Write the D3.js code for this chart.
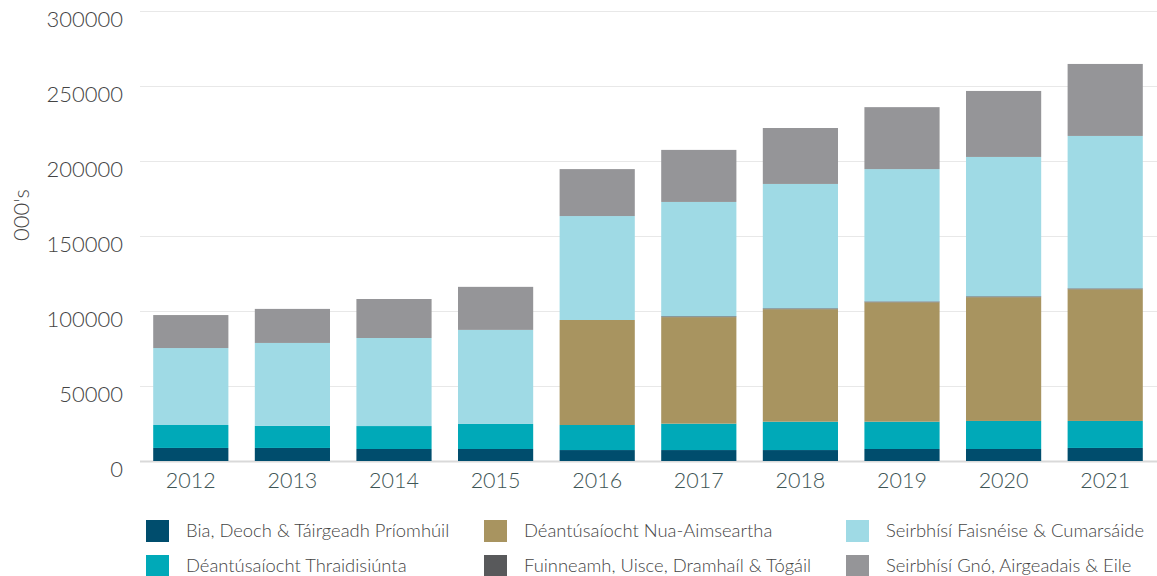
<!DOCTYPE html>
<html>
<head>
<meta charset="utf-8">
<script src="https://cdn.jsdelivr.net/npm/d3@7"></script>
<style>
  body { margin: 0; background: #fff; }
  text { font-family: Lato, "Open Sans", sans-serif; font-weight: 300; }
</style>
</head>
<body>
<div id="chart"></div>
<script>
// Datos
const years = ["2012", "2013", "2014", "2015", "2016", "2017", "2018", "2019", "2020", "2021"];
const seriesNames = [
  "Bia, Deoch & Táirgeadh Príomhúil",
  "Déantúsaíocht Thraidisiúnta",
  "Déantúsaíocht Nua-Aimseartha",
  "Fuinneamh, Uisce, Dramhaíl & Tógáil",
  "Seirbhísí Faisnéise & Cumarsáide",
  "Seirbhísí Gnó, Airgeadais & Eile"
];
const bia       = [8700, 8700, 8000, 8000, 7300, 7300, 7300, 8000, 8000, 8700];
const thraid    = [15300, 14700, 15300, 16700, 16700, 17600, 18900, 18200, 18700, 18000];
const nua       = [0, 0, 0, 0, 70000, 71000, 75000, 79600, 82500, 87800];
const fuinneamh = [0, 0, 0, 0, 0, 600, 600, 600, 600, 600];
const faisneis  = [51300, 55300, 58700, 62700, 69300, 76200, 82900, 88200, 92900, 101600];
const gno       = [22000, 22700, 26000, 28700, 31300, 34700, 37300, 41300, 44000, 48000];
const yTicks = [0, 50000, 100000, 150000, 200000, 250000, 300000];
const colors = ["#004d6d", "#00a9b8", "#a89460", "#58595b", "#9fdae5", "#959598"];

const width = 1157, height = 576;
const svg = d3.select("#chart").append("svg")
  .attr("width", width).attr("height", height);

const seriesValues = [bia, thraid, nua, fuinneamh, faisneis, gno];
const table = years.map((y, i) => {
  const row = { year: y };
  seriesNames.forEach((s, k) => row[s] = seriesValues[k][i]);
  return row;
});
const stacked = d3.stack().keys(seriesNames)(table);

const x = d3.scaleBand().domain(years).range([140, 1156]).paddingInner(0.26).paddingOuter(0.13);
const y = d3.scaleLinear().domain([0, 300000]).range([461, 11]);

// Líneas de cuadrícula
svg.append("g").selectAll("line")
  .data(yTicks)
  .enter().append("line")
  .attr("x1", 140).attr("x2", 1157)
  .attr("y1", d => y(d) + 0.5).attr("y2", d => y(d) + 0.5)
  .attr("stroke", d => d === 0 ? "#d9d9d9" : "#e8e8e8")
  .attr("stroke-width", d => d === 0 ? 2 : 1);

// Etiquetas eje Y
svg.append("g").selectAll("text")
  .data(yTicks)
  .enter().append("text")
  .attr("x", 123).attr("y", d => y(d) + 16)
  .attr("text-anchor", "end")
  .attr("font-size", 22)
  .attr("fill", "#444")
  .text(d => d);

svg.append("text")
  .attr("transform", "translate(29,215) rotate(-90)")
  .attr("text-anchor", "middle")
  .attr("font-size", 22)
  .attr("fill", "#444")
  .text("000's");

// Barras apiladas
svg.append("g").selectAll("g")
  .data(stacked)
  .enter().append("g")
  .attr("fill", (d, i) => colors[i])
  .selectAll("rect")
  .data(d => d)
  .enter().append("rect")
  .attr("x", d => x(d.data.year))
  .attr("width", x.bandwidth())
  .attr("y", d => y(d[1]))
  .attr("height", d => y(d[0]) - y(d[1]));

// Etiquetas eje X
svg.append("g").selectAll("text")
  .data(years)
  .enter().append("text")
  .attr("x", d => x(d) + x.bandwidth() / 2)
  .attr("y", 488)
  .attr("text-anchor", "middle")
  .attr("font-size", 21.5)
  .attr("fill", "#3e5555")
  .text(d => d);

// Leyenda
const legendX = [146, 484, 846];
const legendY = [520, 555];
const legend = svg.append("g").selectAll("g")
  .data(seriesNames)
  .enter().append("g")
  .attr("transform", (d, i) => `translate(${legendX[Math.floor(i / 2)]},${legendY[i % 2]})`);
legend.append("rect")
  .attr("width", 23).attr("height", 22)
  .attr("fill", (d, i) => colors[i]);
legend.append("text")
  .attr("x", 40).attr("y", 17)
  .attr("font-size", 18.4)
  .attr("fill", "#444")
  .text(d => d);
</script>
</body>
</html>
